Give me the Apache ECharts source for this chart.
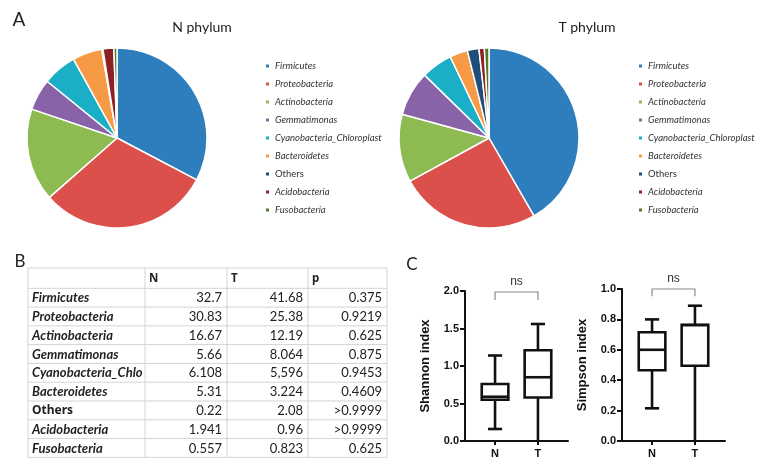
<!DOCTYPE html>
<html>
<head>
<meta charset="utf-8">
<script src="https://cdn.jsdelivr.net/npm/echarts@6/dist/echarts.min.js"></script>
<style>
html,body{margin:0;padding:0;background:#fff;}
#chart{width:763px;height:475px;}
</style>
</head>
<body>
<div id="chart"></div>
<script>
// ---------- DATA ----------
var phyla = ['Firmicutes','Proteobacteria','Actinobacteria','Gemmatimonas','Cyanobacteria_Chloroplast','Bacteroidetes','Others','Acidobacteria','Fusobacteria'];
var nPhylum = [32.7, 30.83, 16.67, 5.66, 6.108, 5.31, 0.22, 1.941, 0.557];
var tPhylum = [41.68, 25.38, 12.19, 8.064, 5.596, 3.224, 2.08, 0.96, 0.823];
var phylaColors = ['#2E7EBE','#DC504C','#8DBB52','#8963A8','#1AAFC7','#F79A45','#1F4E7A','#8C2023','#4D7A2A'];

var tableHeader = ['', 'N', 'T', 'p'];
var tableN = ['32.7','30.83','16.67','5.66','6.108','5.31','0.22','1.941','0.557'];
var tableT = ['41.68','25.38','12.19','8.064','5,596','3.224','2.08','0.96','0.823'];
var tableP = ['0.375','0.9219','0.625','0.875','0.9453','0.4609','>0.9999','>0.9999','0.625'];

var boxCats = ['N','T'];
// [position, min, Q1, median, Q3, max]
var shannonBoxes = [[1, 0.16, 0.55, 0.59, 0.76, 1.14], [2, 0.0, 0.58, 0.85, 1.21, 1.56]];
var simpsonBoxes = [[1, 0.215, 0.465, 0.60, 0.715, 0.80], [2, 0.0, 0.495, 0.762, 0.765, 0.89]];
// significance brackets: [from, to, top, drop]
var shannonSig = [[1, 2, 1.987, 1.88]];
var simpsonSig = [[1, 2, 1.0, 0.952]];
var sigLabel = 'ns';

// ---------- CHART ----------
var chart = echarts.init(document.getElementById('chart'), null, {renderer: 'canvas'});
var FONT = 'Lato, "Liberation Sans", sans-serif';
var BFONT = '"Noto Sans", "Open Sans", sans-serif';
var AFONT = '"Liberation Sans", Arial, sans-serif';

function pieData(vals) {
  return phyla.map(function (n, i) { return {name: n, value: vals[i], itemStyle: {color: phylaColors[i]}}; });
}
function legendFmt(name) { return name === 'Others' ? '{n|' + name + '}' : '{i|' + name + '}'; }
var legendRich = {
  i: {fontStyle: 'italic', fontSize: 9.5, fontFamily: FONT, color: '#333', lineHeight: 12},
  n: {fontSize: 9.5, fontFamily: FONT, color: '#333', lineHeight: 12}
};
function makeLegend(left) {
  return {
    data: phyla, orient: 'vertical', left: left, top: 60, icon: 'rect',
    itemWidth: 5, itemHeight: 5, itemGap: 6, selectedMode: false, padding: 0,
    formatter: legendFmt, textStyle: {rich: legendRich, fontSize: 9.5, lineHeight: 12}
  };
}

function boxRender(params, api) {
  var x = api.value(0);
  var mn = api.coord([x, api.value(1)]);
  var q1 = api.coord([x, api.value(2)]);
  var md = api.coord([x, api.value(3)]);
  var q3 = api.coord([x, api.value(4)]);
  var mx = api.coord([x, api.value(5)]);
  var bw = api.size([0.62, 0])[0];
  var cw = api.size([0.33, 0])[0];
  var cx = mn[0];
  var ls = {stroke: '#111', lineWidth: 2.6, fill: null};
  return {
    type: 'group',
    children: [
      {type: 'line', shape: {x1: cx, y1: mn[1], x2: cx, y2: q1[1]}, style: ls},
      {type: 'line', shape: {x1: cx, y1: q3[1], x2: cx, y2: mx[1]}, style: ls},
      {type: 'line', shape: {x1: cx - cw / 2, y1: mn[1], x2: cx + cw / 2, y2: mn[1]}, style: {stroke: '#111', lineWidth: api.value(1) === 0 ? 1 : 2.6}},
      {type: 'line', shape: {x1: cx - cw / 2, y1: mx[1], x2: cx + cw / 2, y2: mx[1]}, style: ls},
      {type: 'rect', shape: {x: cx - bw / 2, y: q3[1], width: bw, height: q1[1] - q3[1]}, style: {stroke: '#111', lineWidth: 2.6, fill: '#fff'}},
      {type: 'line', shape: {x1: cx - bw / 2, y1: md[1], x2: cx + bw / 2, y2: md[1]}, style: ls}
    ]
  };
}
function sigRender(params, api) {
  var a = api.coord([api.value(0), api.value(2)]);
  var b = api.coord([api.value(1), api.value(2)]);
  var d = api.coord([api.value(0), api.value(3)]);
  return {
    type: 'group',
    children: [
      {type: 'polyline', shape: {points: [[a[0], d[1]], [a[0], a[1]], [b[0], b[1]], [b[0], d[1]]]}, style: {stroke: '#8a8a8a', lineWidth: 1.2, fill: null}},
      {type: 'text', x: (a[0] + b[0]) / 2, y: a[1] - 10, style: {text: sigLabel, align: 'center', verticalAlign: 'middle', fontSize: 12, fontFamily: AFONT, fill: '#333'}}
    ]
  };
}

function xAxisCfg(gi) {
  return {
    gridIndex: gi, type: 'value', min: 0.3, max: 2.7,
    axisLine: {show: true, lineStyle: {color: '#111', width: 2}},
    axisTick: {show: true, customValues: [1, 2], length: 4, lineStyle: {color: '#111', width: 2}},
    axisLabel: {show: true, customValues: [1, 2], margin: 7, formatter: function (v) { return boxCats[Math.round(v) - 1]; },
      fontFamily: AFONT, fontWeight: 'bold', fontSize: 11, color: '#111'},
    splitLine: {show: false}
  };
}
function yAxisCfg(gi, max, interval, name) {
  return {
    gridIndex: gi, type: 'value', min: 0, max: max, interval: interval,
    name: name, nameLocation: 'middle', nameGap: 33,
    nameTextStyle: {fontFamily: AFONT, fontWeight: 'bold', fontSize: 13, color: '#111'},
    axisLine: {show: true, lineStyle: {color: '#111', width: 2}},
    axisTick: {show: true, length: 5, lineStyle: {color: '#111', width: 2}},
    axisLabel: {margin: 6, formatter: function (v) { return v.toFixed(1); }, fontFamily: AFONT, fontWeight: 'bold', fontSize: 11, color: '#111'},
    splitLine: {show: false}
  };
}

// ---------- TABLE (graphic) ----------
var colX = [28, 145, 227, 308, 387];
var tableTop = 268, headH = 20.3, rowH = 18.78;
var tableEls = [];
var nRows = phyla.length;
var tableBottom = tableTop + headH + rowH * nRows;
var gridLine = {stroke: '#d4d4d4', lineWidth: 1};
colX.forEach(function (x) {
  tableEls.push({type: 'line', shape: {x1: x, y1: tableTop, x2: x, y2: tableBottom}, style: gridLine});
});
for (var r = 0; r <= nRows + 1; r++) {
  var yy = r === 0 ? tableTop : tableTop + headH + rowH * (r - 1);
  tableEls.push({type: 'line', shape: {x1: colX[0], y1: yy, x2: colX[4], y2: yy}, style: gridLine});
}
tableHeader.forEach(function (h, c) {
  if (!h) return;
  tableEls.push({type: 'text', x: colX[c] + 4, y: tableTop + headH / 2 + 1,
    style: {text: h, align: 'left', verticalAlign: 'middle', font: 'bold 11.5px ' + BFONT, fill: '#222'}});
});
phyla.forEach(function (name, i) {
  var cy = tableTop + headH + rowH * i + rowH / 2 + 0.5;
  var st = {text: name, align: 'left', verticalAlign: 'middle', fill: '#222'};
  if (name === 'Others') {
    st.font = 'bold 12px ' + BFONT;
  } else {
    st.font = 'italic bold 13px ' + FONT;
    st.width = colX[1] - colX[0] - 4;
    st.overflow = 'truncate';
    st.ellipsis = '';
  }
  tableEls.push({type: 'text', x: colX[0] + 4, y: cy, style: st});
  [tableN[i], tableT[i], tableP[i]].forEach(function (v, c) {
    tableEls.push({type: 'text', x: colX[c + 2] - 5, y: cy,
      style: {text: v, align: 'right', verticalAlign: 'middle', fontSize: 13, fontFamily: FONT, fill: '#222'}});
  });
});

var graphics = [
  {type: 'text', x: 19, y: 20, style: {text: 'A', align: 'center', verticalAlign: 'middle', fontSize: 19, fontFamily: FONT, fill: '#222'}},
  {type: 'text', x: 20, y: 262, style: {text: 'B', align: 'center', verticalAlign: 'middle', fontSize: 17, fontFamily: FONT, fill: '#222'}},
  {type: 'text', x: 412, y: 265, style: {text: 'C', align: 'center', verticalAlign: 'middle', fontSize: 17, fontFamily: FONT, fill: '#222'}},
  {type: 'text', x: 202, y: 27, style: {text: 'N phylum', align: 'center', verticalAlign: 'middle', fontSize: 14, fontFamily: FONT, fill: '#222'}},
  {type: 'text', x: 587, y: 27, style: {text: 'T phylum', align: 'center', verticalAlign: 'middle', fontSize: 14, fontFamily: FONT, fill: '#222'}},
  {type: 'group', children: tableEls}
];

var option = {
  animation: false,
  backgroundColor: '#fff',
  graphic: graphics,
  legend: [makeLegend(264), makeLegend(637)],
  grid: [
    {left: 465, top: 291, width: 103, height: 150},
    {left: 622, top: 289, width: 103, height: 152}
  ],
  xAxis: [xAxisCfg(0), xAxisCfg(1)],
  yAxis: [yAxisCfg(0, 2, 0.5, 'Shannon index'), yAxisCfg(1, 1, 0.2, 'Simpson index')],
  series: [
    {type: 'pie', name: 'N', center: [117, 138], radius: 90, startAngle: 90, clockwise: true,
      label: {show: false}, labelLine: {show: false}, emphasis: {disabled: true},
      itemStyle: {borderColor: '#fff', borderWidth: 1.5}, data: pieData(nPhylum)},
    {type: 'pie', name: 'T', center: [489, 138], radius: 90, startAngle: 90, clockwise: true,
      label: {show: false}, labelLine: {show: false}, emphasis: {disabled: true},
      itemStyle: {borderColor: '#fff', borderWidth: 1.5}, data: pieData(tPhylum)},
    {type: 'custom', xAxisIndex: 0, yAxisIndex: 0, renderItem: boxRender, data: shannonBoxes, clip: false, silent: true},
    {type: 'custom', xAxisIndex: 1, yAxisIndex: 1, renderItem: boxRender, data: simpsonBoxes, clip: false, silent: true},
    {type: 'custom', xAxisIndex: 0, yAxisIndex: 0, renderItem: sigRender, data: shannonSig, clip: false, silent: true},
    {type: 'custom', xAxisIndex: 1, yAxisIndex: 1, renderItem: sigRender, data: simpsonSig, clip: false, silent: true}
  ]
};
chart.setOption(option);
</script>
</body>
</html>
